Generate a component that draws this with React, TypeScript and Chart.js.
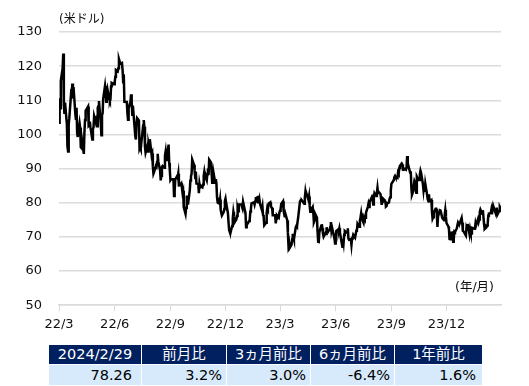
import React, { useEffect, useRef } from "react";
import { Chart, registerables } from "chart.js";

Chart.register(...registerables);

// WTI crude oil price (USD/bbl), daily closes
const days2022 = [
  "3/1","3/2","3/3","3/4","3/7","3/8","3/9","3/10","3/11","3/14","3/15","3/16","3/17","3/18","3/21","3/22","3/23","3/24","3/25","3/28","3/29","3/30","3/31",
  "4/1","4/4","4/5","4/6","4/7","4/8","4/11","4/12","4/13","4/14","4/18","4/19","4/20","4/21","4/22","4/25","4/26","4/27","4/28","4/29",
  "5/2","5/3","5/4","5/5","5/6","5/9","5/10","5/11","5/12","5/13","5/16","5/17","5/18","5/19","5/20","5/23","5/24","5/25","5/26","5/27","5/31",
  "6/1","6/2","6/3","6/6","6/7","6/8","6/9","6/10","6/13","6/14","6/15","6/16","6/17","6/21","6/22","6/23","6/24","6/27","6/28","6/29","6/30",
  "7/1","7/5","7/6","7/7","7/8","7/11","7/12","7/13","7/14","7/15","7/18","7/19","7/20","7/21","7/22","7/25","7/26","7/27","7/28","7/29",
  "8/1","8/2","8/3","8/4","8/5","8/8","8/9","8/10","8/11","8/12","8/15","8/16","8/17","8/18","8/19","8/22","8/23","8/24","8/25","8/26","8/29","8/30","8/31",
  "9/1","9/2","9/6","9/7","9/8","9/9","9/12","9/13","9/14","9/15","9/16","9/19","9/20","9/21","9/22","9/23","9/26","9/27","9/28","9/29","9/30",
  "10/3","10/4","10/5","10/6","10/7","10/10","10/11","10/12","10/13","10/14","10/17","10/18","10/19","10/20","10/21","10/24","10/25","10/26","10/27","10/28","10/31",
  "11/1","11/2","11/3","11/4","11/7","11/8","11/9","11/10","11/11","11/14","11/15","11/16","11/17","11/18","11/21","11/22","11/23","11/25","11/28","11/29","11/30",
  "12/1","12/2","12/5","12/6","12/7","12/8","12/9","12/12","12/13","12/14","12/15","12/16","12/19","12/20","12/21","12/22","12/23","12/27","12/28","12/29","12/30",
];
const prices2022 = [
  103.41,110.60,107.67,115.68,119.40,123.70,108.70,106.02,109.33,103.01,96.44,95.04,102.98,104.70,112.12,111.76,114.93,112.34,113.90,105.96,104.24,107.82,100.28,
  99.27,103.28,101.96,96.23,96.03,98.26,94.29,100.60,104.25,106.95,108.21,102.56,102.75,103.79,102.07,98.54,101.70,102.02,105.36,104.69,
  105.17,102.41,107.81,108.26,109.77,103.09,99.76,105.71,106.13,110.49,114.20,112.40,109.59,112.21,113.23,110.29,109.77,110.33,114.09,115.07,114.67,
  115.26,116.87,118.87,118.50,119.41,122.11,121.51,120.67,120.93,118.93,115.31,117.59,109.56,109.52,106.19,104.27,107.62,109.57,111.76,109.78,105.76,
  108.43,99.50,98.53,102.73,104.79,104.09,95.84,96.30,95.78,97.59,102.60,104.22,102.26,96.35,94.70,96.70,94.98,97.26,96.42,98.62,
  93.89,94.42,90.66,88.54,89.01,90.76,90.50,91.93,94.34,92.09,89.41,86.53,87.91,90.50,90.77,90.23,93.74,94.89,92.52,93.06,97.01,91.64,89.55,
  86.61,86.87,86.88,81.94,83.54,86.79,87.78,87.31,88.48,85.10,85.11,85.73,84.45,82.94,83.49,78.74,76.71,78.50,82.15,81.23,79.49,
  83.63,86.52,87.76,88.45,92.64,91.13,89.35,87.27,89.11,85.61,85.46,82.82,85.55,84.51,85.05,84.58,85.32,87.91,89.08,87.90,86.53,
  88.37,90.00,88.17,92.61,91.79,88.91,85.83,86.47,88.96,85.87,86.92,85.59,81.64,80.08,79.73,80.95,77.94,76.28,77.24,78.20,80.55,
  81.22,79.98,76.93,74.25,72.01,71.46,71.02,73.17,75.39,77.28,76.11,74.29,75.19,76.09,78.29,77.49,79.56,79.53,78.96,78.40,80.26,
];

const days2023 = [
  "1/3","1/4","1/5","1/6","1/9","1/10","1/11","1/12","1/13","1/17","1/18","1/19","1/20","1/23","1/24","1/25","1/26","1/27","1/30","1/31",
  "2/1","2/2","2/3","2/6","2/7","2/8","2/9","2/10","2/13","2/14","2/15","2/16","2/17","2/21","2/22","2/23","2/24","2/27","2/28",
  "3/1","3/2","3/3","3/6","3/7","3/8","3/9","3/10","3/13","3/14","3/15","3/16","3/17","3/20","3/21","3/22","3/23","3/24","3/27","3/28","3/29","3/30","3/31",
  "4/3","4/4","4/5","4/6","4/10","4/11","4/12","4/13","4/14","4/17","4/18","4/19","4/20","4/21","4/24","4/25","4/26","4/27","4/28",
  "5/1","5/2","5/3","5/4","5/5","5/8","5/9","5/10","5/11","5/12","5/15","5/16","5/17","5/18","5/19","5/22","5/23","5/24","5/25","5/26","5/30","5/31",
  "6/1","6/2","6/5","6/6","6/7","6/8","6/9","6/12","6/13","6/14","6/15","6/16","6/20","6/21","6/22","6/23","6/26","6/27","6/28","6/29","6/30",
  "7/3","7/5","7/6","7/7","7/10","7/11","7/12","7/13","7/14","7/17","7/18","7/19","7/20","7/21","7/24","7/25","7/26","7/27","7/28","7/31",
  "8/1","8/2","8/3","8/4","8/7","8/8","8/9","8/10","8/11","8/14","8/15","8/16","8/17","8/18","8/21","8/22","8/23","8/24","8/25","8/28","8/29","8/30","8/31",
  "9/1","9/5","9/6","9/7","9/8","9/11","9/12","9/13","9/14","9/15","9/18","9/19","9/20","9/21","9/22","9/25","9/26","9/27","9/28","9/29",
  "10/2","10/3","10/4","10/5","10/6","10/9","10/10","10/11","10/12","10/13","10/16","10/17","10/18","10/19","10/20","10/23","10/24","10/25","10/26","10/27","10/30","10/31",
  "11/1","11/2","11/3","11/6","11/7","11/8","11/9","11/10","11/13","11/14","11/15","11/16","11/17","11/20","11/21","11/22","11/24","11/27","11/28","11/29","11/30",
  "12/1","12/4","12/5","12/6","12/7","12/8","12/11","12/12","12/13","12/14","12/15","12/18","12/19","12/20","12/21","12/22","12/26","12/27","12/28","12/29",
];
const prices2023 = [
  76.93,72.84,73.67,73.77,74.63,75.12,77.41,78.39,79.86,80.18,79.48,80.33,81.31,81.62,80.13,80.15,81.01,79.68,77.90,78.87,
  76.41,75.88,73.39,74.11,77.14,78.47,78.06,79.72,80.14,79.06,78.59,78.49,76.34,76.36,73.95,75.39,76.32,75.68,77.05,
  77.69,78.16,79.68,80.46,77.58,76.66,75.72,76.68,74.80,71.33,67.61,68.35,66.74,67.64,69.33,70.90,69.96,69.26,72.81,73.20,72.97,74.37,75.67,
  80.42,80.71,80.61,80.70,79.74,81.53,83.26,82.16,82.52,80.83,81.86,79.16,77.37,77.87,78.76,77.07,74.30,74.76,76.78,
  75.66,71.66,68.60,68.56,71.34,73.16,73.71,72.56,70.87,70.04,71.11,70.86,72.83,71.86,71.69,71.99,72.91,74.34,71.83,72.67,69.46,68.09,
  70.10,71.74,72.15,71.74,72.53,71.29,70.17,67.12,69.42,68.27,70.62,71.78,71.19,72.53,69.51,69.16,69.37,67.70,69.56,69.86,70.64,
  69.79,71.79,71.80,73.86,72.99,74.83,75.75,76.89,75.42,74.15,75.75,75.35,75.63,77.07,78.74,79.63,78.78,80.09,80.58,81.80,
  81.37,79.49,81.55,82.82,81.94,82.92,84.40,82.82,83.19,82.51,80.99,79.38,80.39,81.25,80.72,80.35,78.89,79.05,79.83,80.10,81.16,81.63,83.63,
  85.55,86.69,87.54,87.87,87.51,87.29,88.84,88.52,90.16,90.77,91.48,91.20,89.66,89.63,90.03,89.68,90.39,93.68,91.71,90.79,
  88.82,89.23,84.22,82.31,82.79,86.38,85.97,83.49,82.91,87.69,86.66,86.66,88.32,89.37,88.75,85.49,83.74,85.39,83.21,85.54,82.31,81.02,
  80.44,82.46,80.51,80.82,77.37,75.33,75.74,77.17,78.26,78.26,76.66,72.90,75.89,77.83,77.77,77.10,75.54,74.86,76.41,77.86,75.96,
  74.07,73.04,72.32,69.38,69.34,71.23,71.32,68.61,69.47,71.58,71.43,72.47,73.44,74.22,73.89,73.56,75.57,74.11,71.77,71.65,
];

const days2024 = [
  "1/2","1/3","1/4","1/5","1/8","1/9","1/10","1/11","1/12","1/16","1/17","1/18","1/19","1/22","1/23","1/24","1/25","1/26","1/29","1/30","1/31",
  "2/1","2/2","2/5","2/6","2/7","2/8","2/9","2/12","2/13","2/14","2/15","2/16","2/20","2/21","2/22","2/23","2/26","2/27","2/28","2/29",
];
const prices2024 = [
  70.38,72.70,72.19,73.81,70.77,72.24,71.37,71.02,72.68,72.40,72.56,74.08,73.41,75.19,74.37,75.09,77.36,78.01,76.78,77.82,75.85,
  73.82,72.28,72.78,73.31,73.86,76.22,76.84,76.92,77.87,76.64,78.03,79.19,77.04,77.91,78.61,76.49,77.58,78.87,78.54,78.26,
];

// x-axis ticks (days since 2022/3/1) and their labels
const tickDays = [0, 92, 184, 275, 365, 457, 549, 640];
const tickLabels = ["22/3", "22/6", "22/9", "22/12", "23/3", "23/6", "23/9", "23/12"];

// summary table
const tableHeaders = ["2024/2/29", "前月比", "3ヵ月前比", "6ヵ月前比", "1年前比"];
const tableValues = ["78.26", "3.2%", "3.0%", "-6.4%", "1.6%"];

const START = Date.UTC(2022, 2, 1);
function toPoints(year: number, days: string[], prices: number[]) {
  return days.map((md, i) => {
    const [m, d] = md.split("/").map(Number);
    return { x: (Date.UTC(year, m - 1, d) - START) / 86400000, y: prices[i] };
  });
}

const FONT = '"DejaVu Sans", "Noto Sans CJK JP", sans-serif';

export default function App() {
  const ref = useRef<HTMLCanvasElement>(null);

  useEffect(() => {
    if (!ref.current) return;
    const data = [
      ...toPoints(2022, days2022, prices2022),
      ...toPoints(2023, days2023, prices2023),
      ...toPoints(2024, days2024, prices2024),
    ];
    const tickFont = { family: FONT, size: 13 };
    const chart = new Chart(ref.current, {
      type: "line",
      data: {
        datasets: [
          {
            data,
            borderColor: "#000",
            borderWidth: 2.5,
            pointRadius: 0,
            tension: 0,
            fill: false,
          },
        ],
      },
      options: {
        animation: false,
        responsive: false,
        maintainAspectRatio: false,
        layout: { padding: { top: 32, right: 28, left: 0, bottom: 0 } },
        plugins: { legend: { display: false }, tooltip: { enabled: false } },
        scales: {
          x: {
            type: "linear",
            min: 0,
            max: 730,
            afterBuildTicks: (s: any) => {
              s.ticks = tickDays.map((v) => ({ value: v }));
            },
            afterFit: (s: any) => {
              s.height = 24;
            },
            ticks: {
              autoSkip: false,
              maxRotation: 0,
              padding: 6,
              color: "#111",
              font: tickFont,
              callback: (_v: any, i: number) => tickLabels[i] ?? "",
            },
            grid: { drawOnChartArea: false, drawTicks: true, tickLength: 6, color: "#d9d9d9" },
            border: { display: true, color: "#d9d9d9", width: 1.5 },
          },
          y: {
            min: 50,
            max: 130,
            afterFit: (s: any) => {
              s.width = 59;
            },
            ticks: { stepSize: 10, padding: 17, color: "#111", font: tickFont },
            grid: { color: "#dcdcdc", lineWidth: 1.5, drawTicks: false },
            border: { display: false },
          },
        },
      },
    });
    return () => chart.destroy();
  }, []);

  const colLeft = [49, 142, 227, 311, 395];
  const colWidth = [92, 84, 83, 83, 87];
  const padRight = [9, 4, 4, 4, 6];

  return (
    <div style={{ position: "fixed", left: 0, top: 0, width: 529, height: 386, background: "#fff", fontFamily: FONT }}>
      <canvas ref={ref} width={529} height={330} style={{ position: "absolute", left: 0, top: 0, width: 529, height: 330 }} />
      <div style={{ position: "absolute", left: 59, top: 11, fontSize: 12, lineHeight: "16px", color: "#111", whiteSpace: "nowrap" }}>
        (米ドル)
      </div>
      <div style={{ position: "absolute", left: 420, width: 74, top: 279, fontSize: 12.5, lineHeight: "16px", color: "#111", textAlign: "right", whiteSpace: "nowrap" }}>
        (年/月)
      </div>
      {tableHeaders.map((h, i) => (
        <div
          key={"h" + i}
          style={{
            position: "absolute",
            left: colLeft[i],
            top: 345,
            width: colWidth[i],
            height: 19,
            background: "#002060",
            color: "#fff",
            fontSize: 14.5,
            lineHeight: "19px",
            textAlign: "center",
            whiteSpace: "nowrap",
          }}
        >
          {h}
        </div>
      ))}
      {tableValues.map((v, i) => (
        <div
          key={"v" + i}
          style={{
            position: "absolute",
            left: colLeft[i],
            top: 365,
            width: colWidth[i] - padRight[i],
            paddingRight: padRight[i],
            height: 20,
            background: "#d6eafc",
            color: "#000",
            fontSize: 14.5,
            lineHeight: "20px",
            textAlign: "right",
            whiteSpace: "nowrap",
          }}
        >
          {v}
        </div>
      ))}
    </div>
  );
}
